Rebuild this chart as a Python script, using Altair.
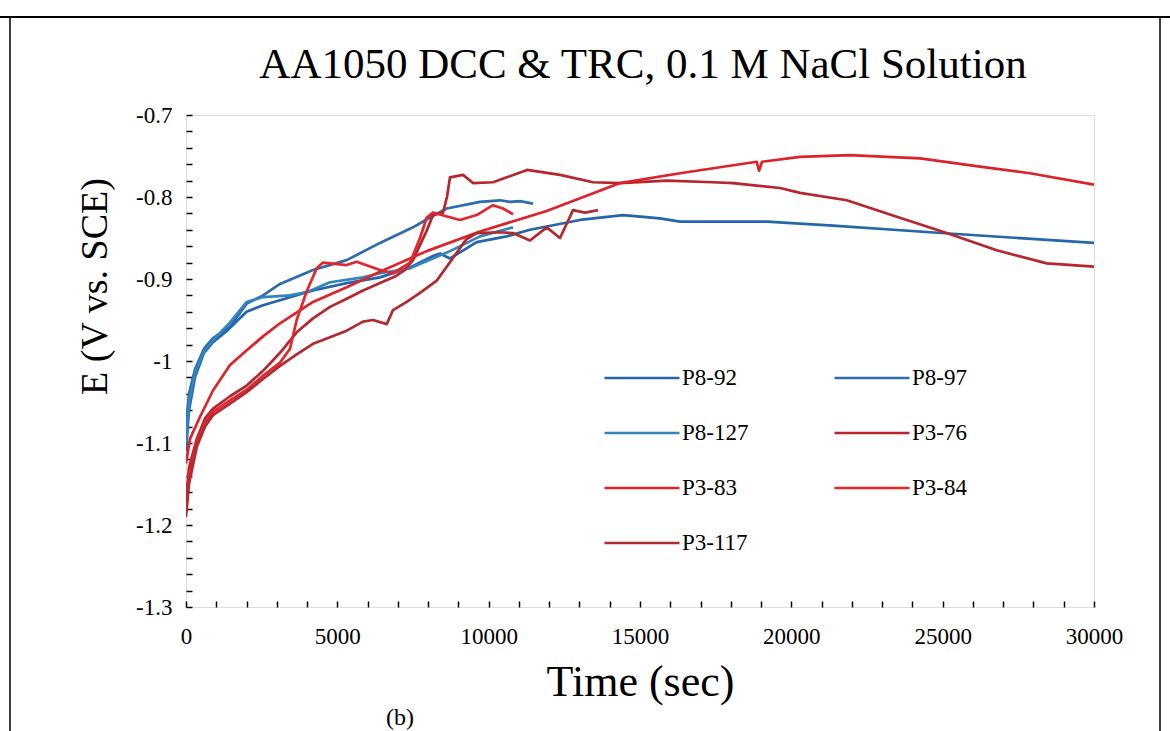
import altair as alt
import pandas as pd

# ---------------- data ----------------
series_names = ["P8-92", "P8-97", "P8-127", "P3-76", "P3-83", "P3-84", "P3-117"]
series_colors = ["#2467a9", "#2a6cad", "#3383bf", "#b7262d", "#dc2329", "#e2262b", "#b02a30"]

p8_92_t = [0, 99, 297, 595, 892, 1388, 1999, 2544, 3106, 4196, 5310, 6410, 7401, 8161, 8392, 8723,
           9605, 10596, 11366, 13018, 14439, 15661, 16322, 19196, 21377, 24582, 30000]
p8_92_e = [-1.11, -1.06, -1.02, -0.99, -0.977, -0.962, -0.94, -0.932, -0.926, -0.914, -0.905, -0.898,
           -0.886, -0.872, -0.869, -0.875, -0.855, -0.848, -0.840, -0.828, -0.822, -0.826, -0.830,
           -0.830, -0.835, -0.843, -0.856]

p8_97_t = [0, 99, 297, 595, 892, 1454, 2006, 2544, 3106, 4196, 5310, 6410, 7500, 8062, 8614, 9714,
           10375, 10705, 11035, 11465]
p8_97_e = [-1.08, -1.04, -1.01, -0.985, -0.972, -0.958, -0.930, -0.920, -0.906, -0.889, -0.877,
           -0.856, -0.837, -0.825, -0.814, -0.806, -0.804, -0.806, -0.805, -0.808]

p8_127_t = [0, 99, 297, 595, 892, 1454, 2006, 2544, 3436, 3988, 4758, 5848, 6410, 7401, 8723, 9714,
            10804]
p8_127_e = [-1.10, -1.05, -1.015, -0.988, -0.975, -0.953, -0.928, -0.922, -0.920, -0.916, -0.904,
            -0.898, -0.893, -0.887, -0.866, -0.848, -0.837]

p3_76_t = [0, 99, 354, 628, 892, 1454, 2006, 2544, 3106, 3657, 4196, 4758, 5310, 5848, 6410, 6905,
           7236, 7500, 7953, 8161, 8491, 8623, 8723, 9152, 9482, 10143, 11267, 12357, 13448, 14339,
           15892, 17412, 18073, 19626, 20287, 21830, 23482, 25133, 26785, 28438, 30000]
p3_76_e = [-1.17, -1.13, -1.095, -1.07, -1.058, -1.043, -1.030, -1.012, -0.990, -0.965, -0.948,
           -0.934, -0.924, -0.914, -0.905, -0.897, -0.889, -0.877, -0.841, -0.822, -0.819, -0.800,
           -0.776, -0.773, -0.783, -0.782, -0.767, -0.773, -0.782, -0.783, -0.780, -0.782, -0.783,
           -0.789, -0.795, -0.804, -0.824, -0.844, -0.865, -0.881, -0.885]

p3_83_t = [0, 132, 463, 892, 1454, 2006, 2544, 3106, 4196, 5310, 6410, 7953, 9714, 11918, 14339,
           16322, 18856, 18932, 19031, 20287, 21929, 24252, 26233, 27886, 30000]
p3_83_e = [-1.125, -1.095, -1.068, -1.036, -1.005, -0.987, -0.970, -0.954, -0.928, -0.910, -0.891,
           -0.866, -0.842, -0.817, -0.783, -0.771, -0.757, -0.768, -0.757, -0.751, -0.749, -0.753,
           -0.763, -0.771, -0.785]

p3_84_t = [0, 99, 354, 628, 892, 1454, 2006, 2544, 3106, 3436, 3657, 3988, 4318, 4526, 5310, 5640,
           6410, 6839, 7401, 7731, 7953, 8161, 8448, 9053, 9605, 10143, 10474, 10804]
p3_84_e = [-1.18, -1.14, -1.10, -1.075, -1.062, -1.048, -1.035, -1.018, -1.002, -0.985, -0.950,
           -0.915, -0.887, -0.880, -0.883, -0.879, -0.889, -0.893, -0.880, -0.850, -0.825, -0.819,
           -0.822, -0.828, -0.822, -0.810, -0.814, -0.821]

p3_117_t = [0, 99, 354, 628, 892, 1454, 2006, 2544, 3106, 3657, 4196, 4758, 5310, 5848, 6178, 6631,
            6839, 7292, 7731, 8283, 8614, 8944, 9251, 9605, 10375, 10804, 11366, 11918, 12357,
            12787, 13184, 13612]
p3_117_e = [-1.19, -1.15, -1.105, -1.08, -1.066, -1.052, -1.038, -1.022, -1.006, -0.992, -0.979,
            -0.971, -0.963, -0.952, -0.950, -0.955, -0.938, -0.928, -0.917, -0.902, -0.885, -0.868,
            -0.852, -0.844, -0.843, -0.844, -0.853, -0.837, -0.850, -0.816, -0.819, -0.816]

chart_title = "AA1050 DCC & TRC, 0.1 M NaCl Solution"
x_title = "Time (sec)"
y_title = "E (V vs. SCE)"
panel_label = "(b)"

x_label_values = [0, 5000, 10000, 15000, 20000, 25000, 30000]
x_tick_values = [i * 1000 for i in range(31)]
y_label_values = [-1.3, -1.2, -1.1, -1.0, -0.9, -0.8, -0.7]
y_tick_values = [round(-1.3 + 0.02 * i, 2) for i in range(31)]

# ---------------- table ----------------
all_t = [p8_92_t, p8_97_t, p8_127_t, p3_76_t, p3_83_t, p3_84_t, p3_117_t]
all_e = [p8_92_e, p8_97_e, p8_127_e, p3_76_e, p3_83_e, p3_84_e, p3_117_e]
rows = []
for name, ts, es in zip(series_names, all_t, all_e):
    for t, e in zip(ts, es):
        rows.append({"series": name, "t": t, "E": e})
df = pd.DataFrame(rows)

W, H = 908, 492
FONT = "Liberation Serif"

x_scale = alt.Scale(domain=[0, 30000], nice=False, zero=False)
y_scale = alt.Scale(domain=[-1.3, -0.7], nice=False, zero=False)

lines = alt.Chart(df).mark_line(strokeWidth=2.7, clip=True, strokeJoin="round").encode(
    x=alt.X("t:Q", scale=x_scale,
            axis=alt.Axis(values=x_label_values, format="d", ticks=False, tickSize=0,
                          labelFont=FONT, labelFontSize=23, labelColor="black", labelPadding=18,
                          labelFlush=False, domain=False, grid=False,
                          title=x_title, titleFont=FONT, titleFontSize=44,
                          titleFontWeight="normal", titleColor="black", titlePadding=12)),
    y=alt.Y("E:Q", scale=y_scale,
            axis=alt.Axis(values=y_label_values, labelExpr="'' + datum.value", ticks=False,
                          tickSize=0, labelFont=FONT, labelFontSize=23, labelColor="black",
                          labelPadding=14, labelFlush=False, domain=False, grid=False,
                          title=y_title, titleFont=FONT, titleFontSize=38,
                          titleFontWeight="normal", titleColor="black",
                          titleX=-91, titleY=171, titleBaseline="middle")),
    color=alt.Color("series:N",
                    scale=alt.Scale(domain=series_names, range=series_colors),
                    legend=alt.Legend(title=None, orient="none", legendX=417, legendY=224,
                                      columns=2, direction="horizontal",
                                      symbolType="stroke", symbolSize=5625,
                                      symbolStrokeWidth=2.7, labelFont=FONT, labelFontSize=23,
                                      labelColor="black", labelOffset=1, columnPadding=80,
                                      rowPadding=4)),
)

tick_layer = alt.Chart(df).mark_point(opacity=0).encode(
    x=alt.X("t:Q", scale=x_scale,
            axis=alt.Axis(orient="top", offset=-H, values=x_tick_values, labels=False,
                          ticks=True, tickSize=6, tickColor="black", tickWidth=1.5,
                          domain=False, grid=False, title=None)),
    y=alt.Y("E:Q", scale=y_scale,
            axis=alt.Axis(orient="right", offset=-W, values=y_tick_values, labels=False,
                          ticks=True, tickSize=6, tickColor="black", tickWidth=1.5,
                          domain=False, grid=False, title=None)),
)

one = pd.DataFrame({"k": [0]})
frame = alt.Chart(one).mark_rect(fill=None, stroke="black", strokeWidth=1.5).encode(
    x=alt.value(-176), x2=alt.value(974), y=alt.value(-98), y2=alt.value(660))
topline = alt.Chart(one).mark_rule(stroke="black", strokeWidth=2).encode(
    x=alt.value(-186), x2=alt.value(984), y=alt.value(-98))
title_text = alt.Chart(one).mark_text(text=chart_title, font=FONT, fontSize=43, color="black",
                                      baseline="alphabetic", align="center").encode(
    x=alt.value(W / 2 + 3), y=alt.value(-37))
label_b = alt.Chart(one).mark_text(text=panel_label, font=FONT, fontSize=24, color="black",
                                   baseline="middle").encode(
    x=alt.value(214), y=alt.value(603))

chart = alt.layer(frame, topline, lines, tick_layer, title_text, label_b).resolve_axis(
    x="independent", y="independent"
).properties(
    width=W, height=H,
    autosize=alt.AutoSizeParams(type="none"),
    padding={"left": 186, "top": 115, "right": 76, "bottom": 124},
).configure_view(stroke="black", strokeWidth=1.5).configure(background="white")

chart.save("out.html", embed_options={"renderer": "svg", "actions": False})
